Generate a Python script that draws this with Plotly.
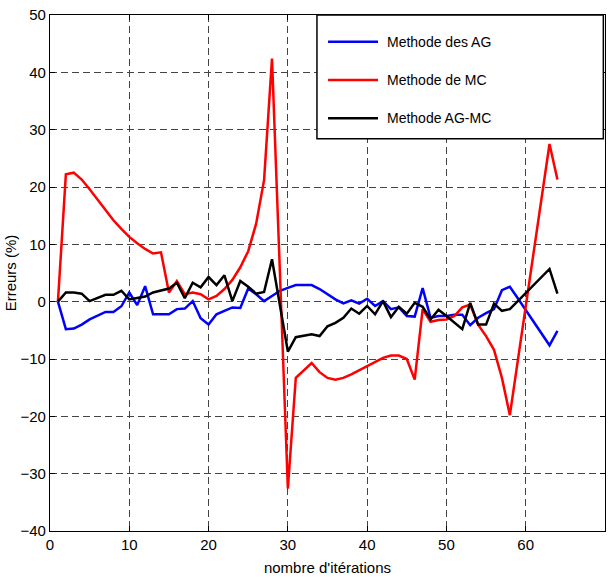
import plotly.graph_objects as go

# Iteration numbers
iterations = list(range(1, 65))

# Relative error (%) per iteration for each method
err_ag = [0, -4.8, -4.7, -4.0, -3.1, -2.5, -1.8, -1.8, -0.8, 1.6,
          -0.6, 2.7, -2.2, -2.2, -2.2, -1.3, -1.2, 0.1, -2.9, -4.0,
          -2.2, -1.6, -1.0, -1.1, 2.3, 1.3, 0.1, 1.0, 1.9, 2.4,
          2.9, 2.9, 2.9, 2.2, 1.3, 0.4, -0.3, 0.25, -0.35, 0.5,
          -0.75, 0.1, -1.3, -1.0, -2.5, -2.6, 2.35, -2.8, -2.5, -2.5,
          -2.3, -2.3, -4.1, -2.8, -2.0, -1.3, 2.0, 2.6, 0.6, -1.4,
          -3.5, -5.5, -7.6, -5.1]

err_mc = [0, 22.2, 22.5, 21.3, 19.6, 17.8, 16.0, 14.2, 12.7, 11.3,
          10.2, 9.2, 8.4, 8.6, 1.6, 3.6, 1.3, 1.6, 1.3, 0.4,
          1.0, 2.2, 3.8, 6.0, 8.8, 13.6, 21.2, 42.4, 5.0, -32.6,
          -13.3, -12.0, -10.7, -12.3, -13.3, -13.6, -13.3, -12.7, -12.0, -11.3,
          -10.5, -9.8, -9.4, -9.4, -10.0, -13.6, -1.3, -3.5, -3.2, -3.1,
          -2.5, -1.0, -0.5, -4.0, -6.0, -8.4, -13.3, -19.8, -10.3, -0.8,
          8.7, 18.1, 27.5, 21.3]

err_agmc = [0, 1.6, 1.6, 1.4, 0.1, 0.6, 1.2, 1.2, 1.9, 0.4,
            0.6, 0.9, 1.6, 2.0, 2.3, 3.3, 0.6, 3.3, 2.5, 4.3,
            2.9, 4.6, 0.1, 3.6, 2.6, 1.4, 1.7, 7.4, -0.7, -8.7,
            -6.2, -6.0, -5.7, -6.0, -4.3, -3.7, -2.8, -1.2, -2.1, -0.75,
            -2.2, 0.1, -2.7, -0.9, -2.1, -0.2, -0.9, -3.1, -1.4, -2.5,
            -3.7, -4.8, -0.2, -4.0, -4.0, -0.35, -1.6, -1.3, 0.1, 1.5,
            2.9, 4.3, 5.7, 1.4]

series_names = ["Methode des AG", "Methode de MC", "Methode AG-MC"]
series_colors = ["#0000ff", "#ff0000", "#000000"]
series_values = [err_ag, err_mc, err_agmc]

x_ticks = [0, 10, 20, 30, 40, 50, 60, 70]
y_ticks = [-40, -30, -20, -10, 0, 10, 20, 30, 40, 50]

FONT = "Liberation Sans, Arial, sans-serif"

fig = go.Figure()
for name, color, vals in zip(series_names, series_colors, series_values):
    fig.add_trace(go.Scatter(
        x=iterations, y=vals, mode="lines", name=name,
        line=dict(color=color, width=2.5), showlegend=False,
    ))

axis_common = dict(
    showline=True, linecolor="black", linewidth=1.3, mirror="ticks",
    ticks="inside", ticklen=5, tickcolor="black", tickwidth=1,
    showgrid=True, gridcolor="#444444", gridwidth=1, griddash="7px,4px",
    zeroline=False,
    tickfont=dict(family=FONT, size=15, color="black"),
)

fig.update_xaxes(range=[0, 70], tickvals=x_ticks,
                 title=dict(text="nombre d'itérations",
                            font=dict(family=FONT, size=15, color="black"),
                            standoff=10),
                 **axis_common)
fig.update_yaxes(range=[-40, 50], tickvals=y_ticks,
                 title=dict(text="Erreurs (%)",
                            font=dict(family=FONT, size=15, color="black"),
                            standoff=0),
                 **axis_common)

# Legend box drawn in paper coordinates
shapes = [dict(type="rect", xref="paper", yref="paper",
               x0=0.481, x1=0.997, y0=0.760, y1=1.0,
               line=dict(color="black", width=1.5), fillcolor="white",
               layer="above")]
annotations = []
row_y = [0.948, 0.874, 0.800]
for name, color, yy in zip(series_names, series_colors, row_y):
    shapes.append(dict(type="line", xref="paper", yref="paper",
                       x0=0.501, x1=0.591, y0=yy, y1=yy,
                       line=dict(color=color, width=2.5), layer="above"))
    annotations.append(dict(xref="paper", yref="paper", x=0.604, y=yy,
                            text=name, showarrow=False, xanchor="left",
                            yanchor="middle",
                            font=dict(family=FONT, size=14, color="black")))

fig.update_layout(
    width=612, height=581,
    margin=dict(l=50, r=7, t=15, b=50),
    paper_bgcolor="white", plot_bgcolor="white",
    shapes=shapes, annotations=annotations,
    showlegend=False,
)

fig.write_html("out.html")
